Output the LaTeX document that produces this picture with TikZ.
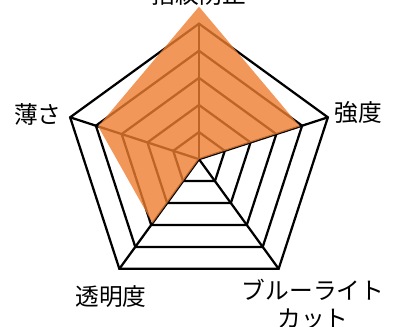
\documentclass[tikz,border=0pt]{standalone}
\usepackage{fontspec}
\setmainfont{Noto Sans CJK JP}
\usepackage{tikz}
\definecolor{chartorange}{RGB}{237,125,49}
\tikzset{axislabel/.style={inner sep=0pt,align=center,font=\fontsize{13.5pt}{15.9pt}\selectfont}}

\begin{document}
\begin{tikzpicture}[x=0.02cm,y=0.02cm,line width=0.045cm]
\useasboundingbox (-199,-167.8) rectangle (199,159.2);
\draw (90:27.1) -- (18:27.1) -- (-54:27.1) -- (-126:27.1) -- (162:27.1) -- cycle;
\draw (90:54.2) -- (18:54.2) -- (-54:54.2) -- (-126:54.2) -- (162:54.2) -- cycle;
\draw (90:81.3) -- (18:81.3) -- (-54:81.3) -- (-126:81.3) -- (162:81.3) -- cycle;
\draw (90:108.4) -- (18:108.4) -- (-54:108.4) -- (-126:108.4) -- (162:108.4) -- cycle;
\draw (90:135.5) -- (18:135.5) -- (-54:135.5) -- (-126:135.5) -- (162:135.5) -- cycle;

\coordinate (c) at (0,0);
\draw (c) -- (90:135.5);
\draw (c) -- (18:135.5);
\draw (c) -- (-54:135.5);
\draw (c) -- (-126:135.5);
\draw (c) -- (162:135.5);

\fill[chartorange,opacity=0.8] (90:152.5) -- (18:106) -- (c) -- (-126:79) -- (162:106) -- cycle;

\node[axislabel] (antifinger) at (0,165) {指紋防止};
\node[axislabel] (strength) at (159,46.7) {強度};
\node[axislabel] (bluecut) at (114,-144.8) {ブルーライト\\カット};
\node[axislabel] (clarity) at (-88,-137.8) {透明度};
\node[axislabel] (thin) at (-161,45.2) {薄さ};
\end{tikzpicture}
\end{document}
